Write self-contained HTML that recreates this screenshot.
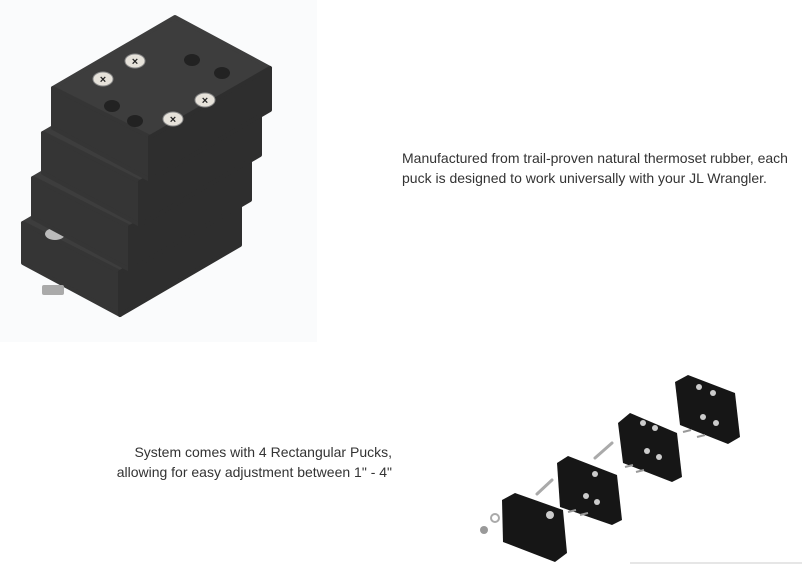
<!DOCTYPE html>
<html><head><meta charset="utf-8"><style>
html,body{margin:0;padding:0;background:#fff;width:802px;height:564px;overflow:hidden;position:relative;font-family:"Liberation Sans",Arial,sans-serif;color:#333}
.t{position:absolute;font-size:14px;line-height:20px;white-space:nowrap}
svg{position:absolute;left:0;top:0}
</style></head><body>
<svg width="802" height="564" viewBox="0 0 802 564">
<rect x="0" y="0" width="317" height="342" fill="#fafbfc"/>
<defs>
<g id="puck" stroke-linejoin="round">
<polygon points="53,88 175,17 270,68 150,137" fill="#3d3d3d" stroke="#3d3d3d" stroke-width="4"/>
<polygon points="53,88 150,137 150,180 53,128" fill="#353535" stroke="#353535" stroke-width="4"/>
<polygon points="150,137 270,68 270,110 150,180" fill="#2e2e2e" stroke="#2e2e2e" stroke-width="4"/>
</g>
</defs>
<g transform="translate(-30,135)"><use href="#puck"/></g>
<rect x="42" y="285" width="22" height="10" rx="2" fill="#aaa"/>
<ellipse cx="55" cy="234" rx="10" ry="6" fill="#bbb"/>
<g transform="translate(-20,90)"><use href="#puck"/></g>
<g transform="translate(-10,45)"><use href="#puck"/></g>
<use href="#puck"/>
<g fill="#222">
<ellipse cx="192" cy="60" rx="8" ry="6"/><ellipse cx="222" cy="73" rx="8" ry="6"/>
<ellipse cx="112" cy="106" rx="8" ry="6"/><ellipse cx="135" cy="121" rx="8" ry="6"/>
</g>
<g fill="#e6e2da" stroke="#888" stroke-width="1">
<ellipse cx="135" cy="61" rx="10" ry="7"/><ellipse cx="103" cy="79" rx="10" ry="7"/>
<ellipse cx="205" cy="100" rx="10" ry="7"/><ellipse cx="173" cy="119" rx="10" ry="7"/>
</g>
<g fill="#222" font-size="11" font-weight="bold" text-anchor="middle" font-family="Liberation Sans,sans-serif">
<text x="135" y="65">×</text><text x="103" y="83">×</text><text x="205" y="104">×</text><text x="173" y="123">×</text>
</g>
<g fill="#161616">
<polygon points="675,382 688,375 735,393 740,437 728,444 680,425"/>
<polygon points="618,423 630,413 677,433 682,477 672,482 623,463"/>
<polygon points="557,463 568,456 617,475 622,520 612,525 560,507"/>
<polygon points="502,500 515,493 563,510 567,553 555,562 503,542"/>
</g>
<g fill="#ccc">
<circle cx="699" cy="387" r="3"/><circle cx="713" cy="393" r="3"/><circle cx="703" cy="417" r="3"/><circle cx="716" cy="423" r="3"/>
<circle cx="643" cy="423" r="3"/><circle cx="655" cy="428" r="3"/><circle cx="647" cy="451" r="3"/><circle cx="659" cy="457" r="3"/>
<circle cx="595" cy="474" r="3"/><circle cx="586" cy="496" r="3"/><circle cx="597" cy="502" r="3"/>
<circle cx="550" cy="515" r="4"/>
</g>
<g stroke="#aaa" stroke-width="3" stroke-linecap="round">
<line x1="595" y1="458" x2="612" y2="443"/>
<line x1="537" y1="494" x2="552" y2="480"/>
</g>
<g stroke="#999" stroke-width="2">
<line x1="568" y1="512" x2="576" y2="510"/><line x1="580" y1="515" x2="588" y2="513"/>
<line x1="625" y1="467" x2="633" y2="465"/><line x1="636" y1="472" x2="644" y2="470"/>
<line x1="683" y1="432" x2="691" y2="430"/><line x1="697" y1="437" x2="705" y2="435"/>
</g>
<circle cx="495" cy="518" r="4" fill="none" stroke="#aaa" stroke-width="2"/>
<circle cx="484" cy="530" r="4" fill="#999"/>
<line x1="630" y1="563" x2="802" y2="563" stroke="#e6e6e6" stroke-width="2"/>
</svg>
<div class="t" style="left:402px;top:148px">Manufactured from trail-proven natural thermoset rubber, each<br>puck is designed to work universally with your JL Wrangler.</div>
<div class="t" style="left:60px;top:442px;width:332px;text-align:right">System comes with 4 Rectangular Pucks,<br>allowing for easy adjustment between 1" - 4"</div>
</body></html>
